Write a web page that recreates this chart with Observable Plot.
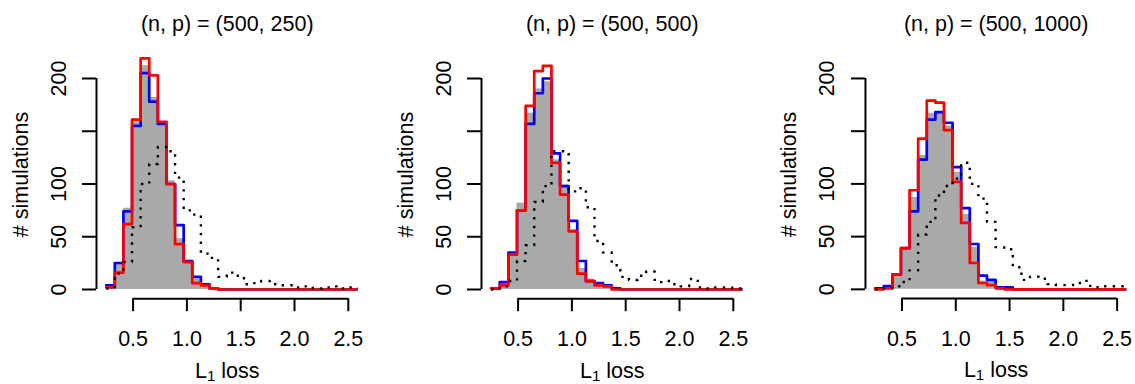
<!DOCTYPE html>
<html><head><meta charset="utf-8">
<script src="https://cdn.jsdelivr.net/npm/d3@7"></script>
<script src="https://cdn.jsdelivr.net/npm/@observablehq/plot@0.6"></script>
<style>
html,body{margin:0;padding:0;background:#fff;overflow:hidden;}
#wrap{position:relative;width:1135px;height:384px;overflow:hidden;background:#fff;}
.panel{position:absolute;top:0;}
</style></head><body><div id="wrap"></div>
<script>
// bin edges (L1 loss)
const binEdges = [0.25,0.33,0.41,0.49,0.57,0.65,0.73,0.81,0.89,0.97,1.05,1.13,1.21,1.29,1.37,1.45,1.53,1.61,1.69,1.77,1.85,1.93,2.01,2.09,2.17,2.25,2.33,2.41,2.49,2.57,2.65];

const nValues = [500, 500, 500];
const pValues = [250, 500, 1000];

// counts per bin, (500, 250)
const gray250   = [3,23,77,159,212,182,158,103,48,27,10,6,2,0,0,0,0,0,0,0,0,0,0,0,0,0,0,0,0,0];
const blue250   = [4,25,74,155,205,178,157,100,61,27,12,5,1,0,0,0,0,0,0,0,0,0,0,0,0,0,0,0,0,0];
const red250    = [2,16,62,161,219,203,159,100,43,26,6,4,1,0,0,0,0,0,0,0,0,0,0,0,0,0,0,0,0,0];
const dotted250 = [1,15,26,59,100,119,135,131,106,75,71,34,30,12,16,13,5,6,8,5,4,4,2,3,1,2,3,1,2,1];

// (500, 500)
const gray500   = [1,6,34,82,167,190,197,123,99,57,20,10,4,3,1,0,0,0,0,0,0,0,0,0,0,0,0,0,0,0];
const blue500   = [1,7,35,75,157,186,200,129,98,65,27,8,6,4,1,0,0,0,0,0,0,0,0,0,0,0,0,0,0,0];
const red500    = [1,4,33,75,174,207,212,120,90,55,15,8,4,3,0,0,0,0,0,0,0,0,0,0,0,0,0,0,0,0];
const dotted500 = [0,3,8,27,42,83,98,131,131,93,96,78,46,35,23,12,9,13,17,7,8,5,3,10,2,1,2,2,1,1];

// (500, 1000)
const gray1000   = [0,2,13,38,87,127,167,167,155,111,71,40,8,8,1,0,0,0,0,0,0,0,0,0,0,0,0,0,0,0];
const blue1000   = [1,3,14,39,74,123,161,168,158,116,77,43,13,9,2,2,0,0,0,0,0,0,0,0,0,0,0,0,0,0];
const red1000    = [0,1,14,39,94,143,179,177,151,102,63,25,6,4,1,0,0,0,0,0,0,0,0,0,0,0,0,0,0,0];
const dotted1000 = [0,1,3,7,18,52,64,89,98,105,120,100,86,64,40,38,21,9,12,10,5,4,4,6,8,2,3,3,3,0];

const xTicks = [0.5, 1, 1.5, 2, 2.5];
const xTickLabels = ["0.5", "1.0", "1.5", "2.0", "2.5"];
const yTicks = [0, 50, 100, 150, 200];
const yTickLabels = ["0", "50", "100", "", "200"];

const panels = [
  {gray: gray250, blue: blue250, red: red250, dotted: dotted250},
  {gray: gray500, blue: blue500, red: red500, dotted: dotted500},
  {gray: gray1000, blue: blue1000, red: red1000, dotted: dotted1000}
];

const xDomain = [0.16, 2.59];
const yDomain = [-8.72, 226.72];
const panelLeft = [0, 384.6, 769.2];
const FONT = '"Liberation Sans", Arial, Helvetica, sans-serif';
const FS = 21.5;

function stepPoints(counts) {
  const pts = counts.map((v, i) => ({x: binEdges[i], y: v}));
  pts.push({x: binEdges[counts.length], y: counts[counts.length - 1]});
  return pts;
}

const wrap = document.getElementById("wrap");
panels.forEach((p, k) => {
  const title = `(n, p) = (${nValues[k]}, ${pValues[k]})`;
  const svg = Plot.plot({
    width: 366, height: 384,
    marginLeft: 96, marginRight: 8.5, marginTop: 49.8, marginBottom: 85.8,
    x: {domain: xDomain},
    y: {domain: yDomain},
    style: {fontFamily: FONT, fontSize: FS + "px", color: "black", background: "white", overflow: "visible"},
    marks: [
      Plot.areaY(stepPoints(p.gray), {x: "x", y: "y", curve: "step-after", fill: "#a9a9a9", clip: true}),
      Plot.lineY(stepPoints(p.blue), {x: "x", y: "y", curve: "step-after", stroke: "#0000ff", strokeWidth: 2.7, clip: true}),
      Plot.lineY(stepPoints(p.red), {x: "x", y: "y", curve: "step-after", stroke: "#ff0000", strokeWidth: 2.7, clip: true}),
      Plot.lineY(stepPoints(p.dotted), {x: "x", y: "y", curve: "step-after", stroke: "black", strokeWidth: 2.4, strokeDasharray: "2.4,6.3", strokeLinecap: "butt", clip: true}),
      Plot.ruleY([yDomain[0]], {x1: xTicks[0], x2: xTicks[xTicks.length - 1], stroke: "black", strokeWidth: 2}),
      Plot.ruleX([xDomain[0]], {y1: yTicks[0], y2: yTicks[yTicks.length - 1], stroke: "black", strokeWidth: 2}),
      Plot.axisX({ticks: xTicks, tickFormat: d => xTickLabels[xTicks.indexOf(d)], tickSize: 13, tickPadding: 19, strokeWidth: 2, label: null, fontSize: FS}),
      Plot.axisY({ticks: yTicks, tickFormat: d => yTickLabels[yTicks.indexOf(d)], tickSize: 14, tickPadding: 17, tickRotate: -90, textAnchor: "middle", lineAnchor: "bottom", strokeWidth: 2, label: null, fontSize: FS}),
      Plot.text([title], {text: d => d, frameAnchor: "top", dy: -19.3, lineAnchor: "bottom", fontSize: FS}),
      Plot.text(["# simulations"], {text: d => d, frameAnchor: "left", dx: -69, rotate: -90, textAnchor: "middle", lineAnchor: "bottom", fontSize: FS}),
      Plot.text(["L1 loss"], {text: d => d, frameAnchor: "bottom", dy: 78.8, lineAnchor: "bottom", fontSize: FS, className: "xlab"})
    ]
  });
  // subscript for L1
  d3.select(svg).selectAll(".xlab text").each(function() {
    const t = d3.select(this);
    t.text(null);
    t.append("tspan").text("L");
    t.append("tspan").attr("font-size", 15).attr("dy", 3).text("1");
    t.append("tspan").attr("dy", -3).text(" loss");
  });
  const div = document.createElement("div");
  div.className = "panel";
  div.style.left = panelLeft[k] + "px";
  div.appendChild(svg);
  wrap.appendChild(div);
});
</script>
</body></html>
